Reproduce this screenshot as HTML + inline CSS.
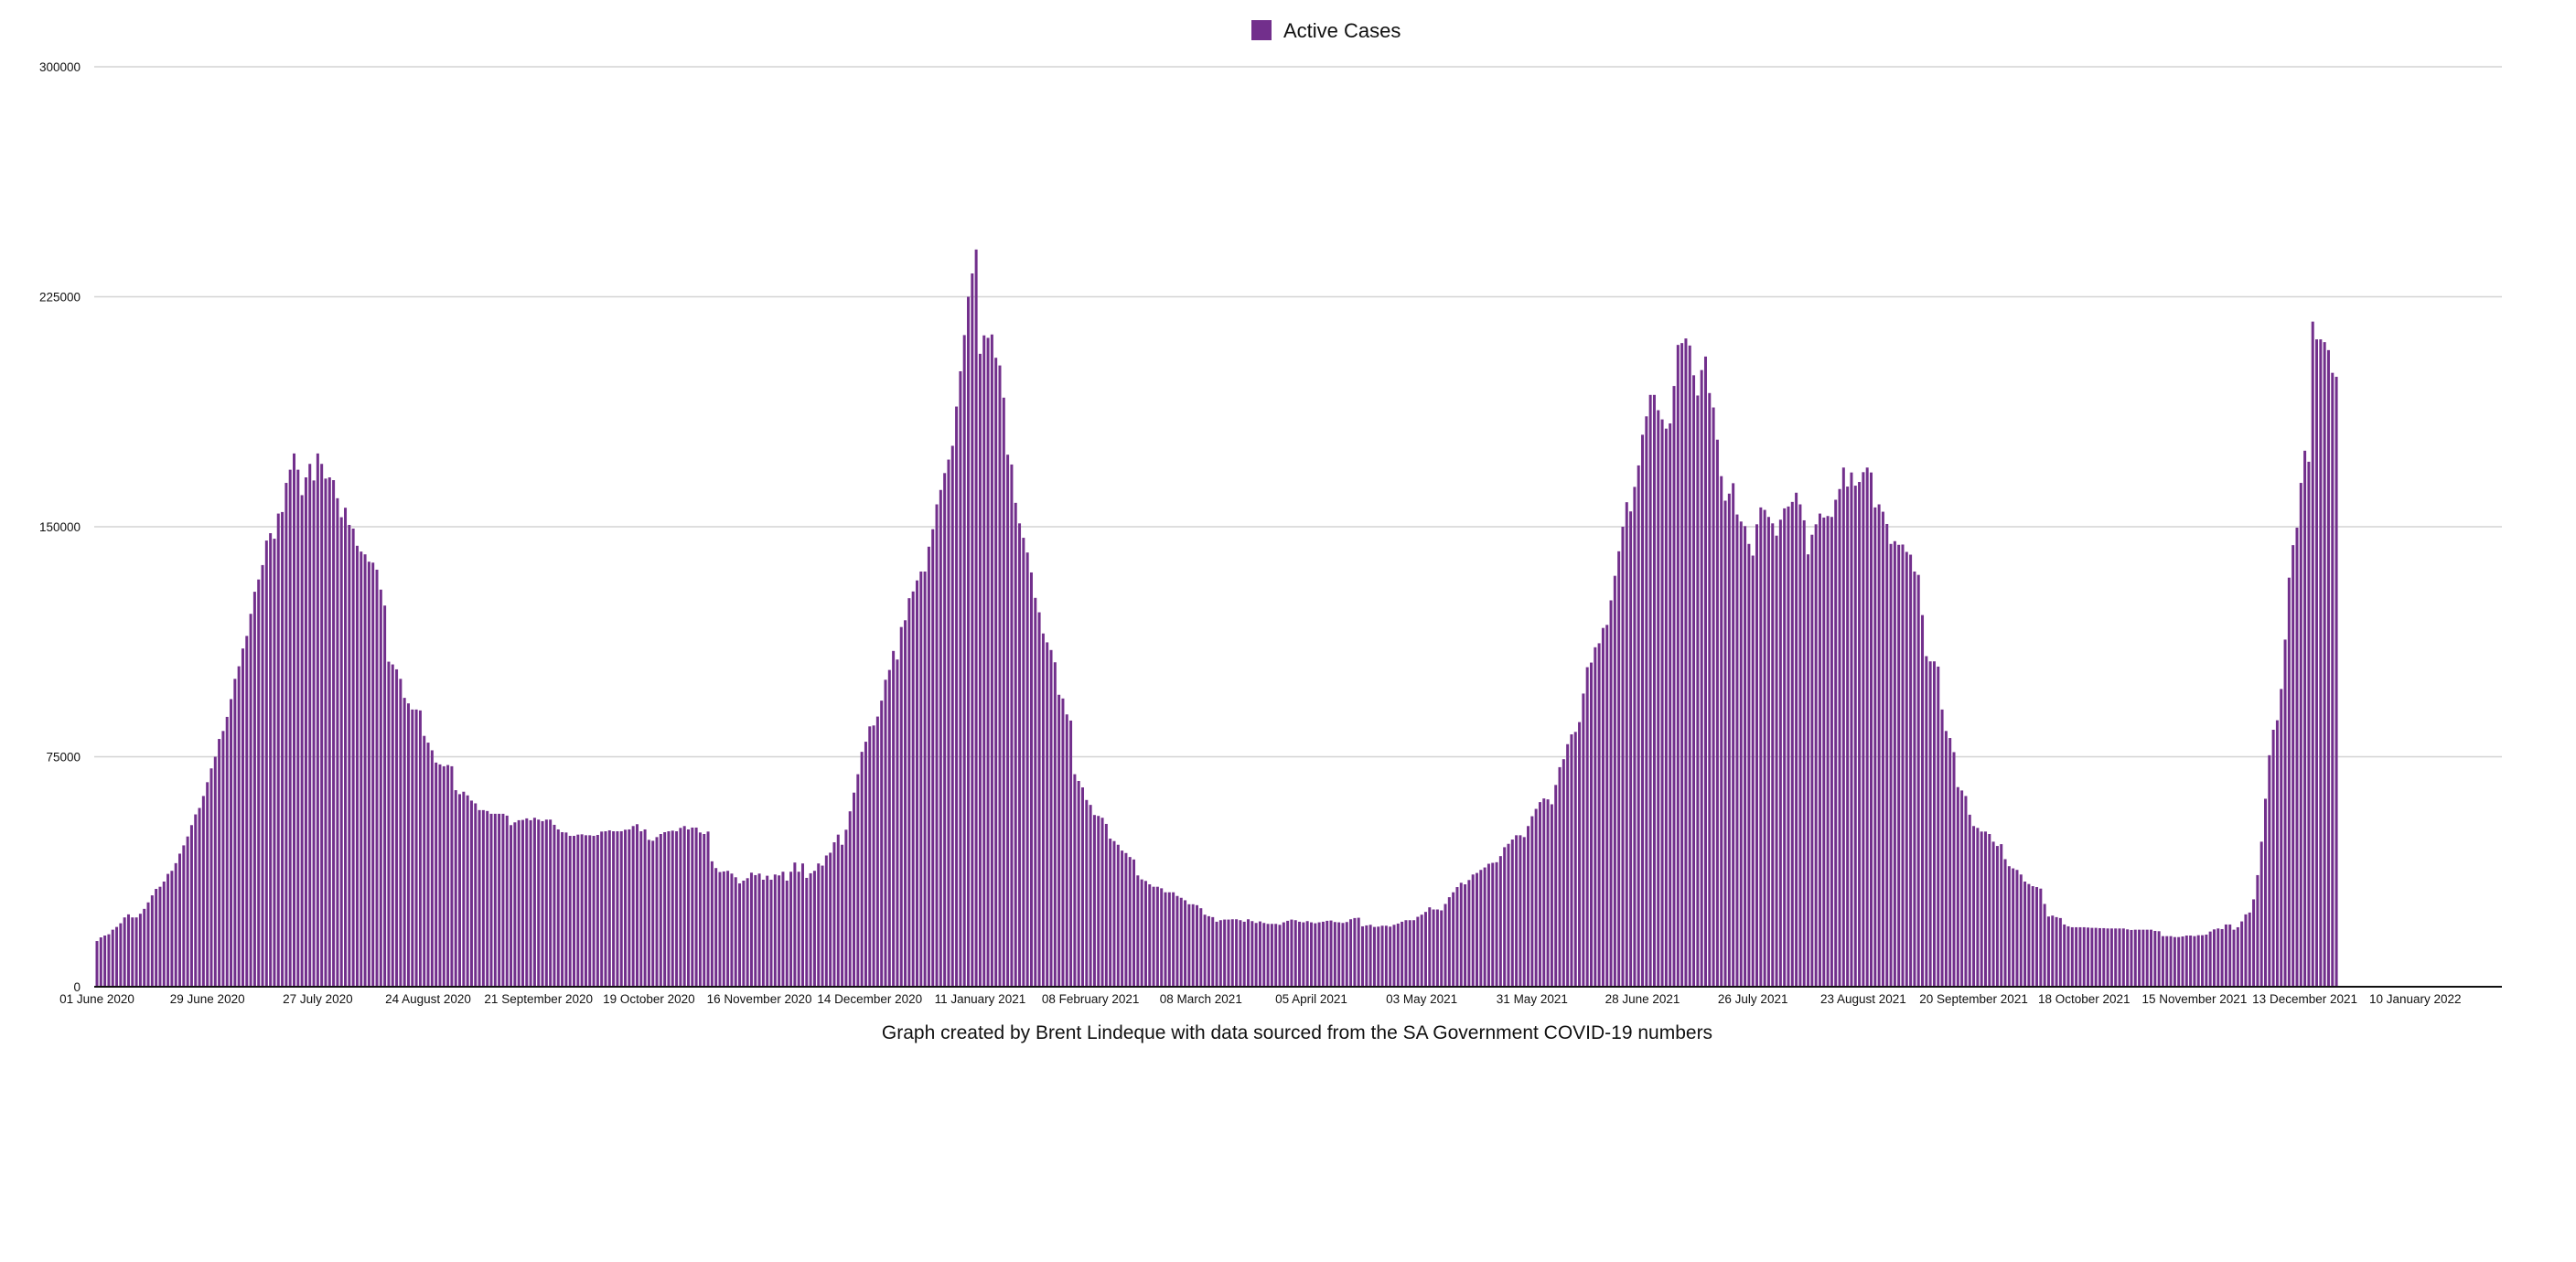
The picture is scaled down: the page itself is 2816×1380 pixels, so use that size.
<!DOCTYPE html>
<html><head><meta charset="utf-8"><style>
html,body{margin:0;padding:0;background:#fff;}
svg{display:block;font-family:"Liberation Sans",sans-serif;}
</style></head><body>
<svg id="chart" width="2816" height="1380" viewBox="0 0 2816 1380" xmlns="http://www.w3.org/2000/svg">
<rect width="2816" height="1380" fill="#fff"/>
<g>
<rect x="1368" y="22" width="22" height="22" fill="#722f8c"/>
<text x="1403" y="41" font-size="22" fill="#111">Active Cases</text>
</g>
<g id="grid"></g>
<g id="ylabels"></g>
<g id="bars"></g>
<line x1="103" y1="1079" x2="2735" y2="1079" stroke="#111" stroke-width="2"/>
<g id="xlabels"></g>
<text x="1418" y="1136" font-size="21" text-anchor="middle" fill="#111">Graph created by Brent Lindeque with data sourced from the SA Government COVID-19 numbers</text>
</svg>
<script>
const yTicks = [0, 75000, 150000, 225000, 300000];
const xTickLabels = ["01 June 2020","29 June 2020","27 July 2020","24 August 2020","21 September 2020","19 October 2020","16 November 2020","14 December 2020","11 January 2021","08 February 2021","08 March 2021","05 April 2021","03 May 2021","31 May 2021","28 June 2021","26 July 2021","23 August 2021","20 September 2021","18 October 2021","15 November 2021","13 December 2021","10 January 2022"];
const xTickDays = [0,28,56,84,112,140,168,196,224,252,280,308,336,364,392,420,448,476,504,532,560,588];
// active cases (thousands), one per day starting 01 June 2020
const wave1 = [14.9,16.1,16.7,17.1,18.6,19.5,20.7,22.6,23.6,22.6,22.6,23.8,25.4,27.5,29.8,31.9,32.6,34.3,36.8,37.8,40.3,43.4,46.1,49,52.7,56.2,58.3,62.2,66.7,71.2,75,80.8,83.4,88,93.8,100.4,104.5,110.3,114.4,121.6,128.8,132.8,137.5,145.5,147.9,146.1,154.3,154.8,164.3,168.6,173.9,168.6,160.3,166.1,170.5,165.1,173.9,170.5,165.7,166.1,165.2,159.3,153.1,156.2,150.6,149.4,143.8,141.9,141,138.6,138.3,136,129.5,124.3,106,105.1,103.5,100.4,94.2,92.4,90.4,90.4,90.1,81.8,79.6,77.1,73.1,72.5,71.9,72.3,71.9,64.1,62.8,63.6,62.4,60.7,59.8,57.6,57.6,57.3,56.4,56.4,56.4,56.4,55.8,52.7,53.6,54.3];
const trough1 = [54.4,54.9,54.3,55.1,54.5,54,54.5,54.5,52.8,51.3,50.4,50.3,49.2,49.2,49.6,49.7,49.4,49.4,49.2,49.5,50.6,50.7,51,50.7,50.7,50.7,51.2,51.3,52.4,53,50.7,51.3,47.9,47.6,48.8,49.8,50.4,50.7,50.9,50.7,51.8,52.4,51.3,51.9,51.9,50.3,49.8,50.6,40.9,38.7,37.4,37.6,37.8,36.9,35.7,33.7,34.6,35.4,37.2,36.4,36.9,34.9,36.2,34.9,36.6,36.3,37.5,34.6,37.5,40.5,37.5,40.2,35.5,37,37.8,40.2];
const wave2 = [39.5,42.8,43.7,47.1,49.6,46.3,51.2,57.2,63.3,69.3,76.6,79.9,84.9,85.2,88.1,93.3,100.1,103.3,109.5,106.7,117.3,119.5,126.7,128.9,132.5,135.4,135.4,143.5,149.2,157.3,162,167.5,171.9,176.4,189.2,200.7,212.5,225,232.6,240.4,206.4,212.4,211.6,212.7,205.1,202.6,192.1,173.5,170.3,157.8,151.1,146.4,141.6,135.1,126.8,122.1,115.2,112.3,109.8,105.8,95.2,94,88.8,86.8,69.3,67.1,65,60.9,59.3,56,55.7,55.1,53.1,48.3,47.5,46.3,44.4,43.6,42.3,41.5,36.3,35,34.5,33.4,32.6,32.6,32.1,30.8,30.8,30.8,29.6,29,28.2,26.9,26.9,26.6,25.6,23.5,23,22.7,21.2,21.7,21.9,21.9,22,22,21.7,21.2];
const trough2 = [22.0,21.4,20.8,21.3,20.8,20.5,20.5,20.5,20.2,21,21.5,21.9,21.7,21.2,21.0,21.4,21,20.7,21,21.2,21.5,21.6,21.1,21,20.8,21.1,22,22.4,22.5,19.7,20,20.2,19.5,19.6,19.9,19.9,19.6,20.2,20.6,21.2,21.7,21.7,21.7,22.8,23.5,24.4,25.9,25.2,25.2,24.9,27,29.2,30.8,32.5,33.9,33.4,34.8,36.6,37.1,38.1,38.9,40.1,40.4,40.6,42.6,45.5,46.6,48,49.4,49.4,48.8,52.4,55.6,58,60.2,61.4,61.1,59.5,65.8,71.6,74.2,79.1,82.3,83.1,86.3,95.6,104.2,105.7,110.7];
const wave3Rise = [112,117,118,126,134,142,150,158,155,163,170,180,186,193,193,188,185,182];
const wave3 = [183.7,195.9,209.3,209.9,211.4,209.1,199.4,192.8,201.1,205.5,193.6,188.9,178.4,166.5,158.5,160.8,164.2,154,151.7,150.2,144.4,140.6,150.8,156.3,155.5,153.2,151.1,147.1,152.3,156,156.6,158.1,161.1,157.3,152.1,141,147.4,150.8,154.3,153,153.5,153.2,158.8,162.3,169.3,163.1,167.7,163.4,164.6,167.8,169.3,167.7,156.3,157.3,154.9,150.9,144.4,145.3,144.1,144.2,141.8,140.9,135.4,134.3,121.2,107.8,106.1,106.1,104.4,90.4,83.4,81.1,76.5,65.1,64,62.2,56.1,52.4,51.8,50.6,50.6,49.8,47.3,45.9,46.5,41.6,39.3,38.6,38.1,36.6,34.3,33.5,32.8,32.5,32,27,22.9,23.2,22.7,22.4,20.3,19.7,19.4,19.4,19.4,19.4];
const wave4 = [19.3,19.2,19.2,19.1,19.1,19,19,19,19,19,18.7,18.5,18.6,18.6,18.6,18.6,18.6,18.2,18.1,16.5,16.5,16.5,16.2,16.2,16.4,16.7,16.7,16.5,16.8,16.8,17,18,18.7,19,18.8,20.3,20.3,18.6,19.4,21.3,23.6,24.2,28.5,36.4,47.3,61.3,75.5,83.8,86.9,97.1,113.2,133.4,144,149.7,164.3,174.8,171.2,216.9,211.1,211.1,210.2,207.6,200.2,198.9];

const values = [].concat(wave1, trough1, wave2, trough2, wave3Rise, wave3, wave4);
const X0 = 106, DAY = 4.31, BASE = 1079, TOP = 73, YMAX = 300000;
function xScale(d){ return X0 + DAY * d; }
function yScale(v){ return BASE - (v / YMAX) * (BASE - TOP); }
const NS = "http://www.w3.org/2000/svg";
const grid = document.getElementById('grid');
const yl = document.getElementById('ylabels');
yTicks.forEach(function(t){
  const y = yScale(t);
  if (t > 0) {
    const l = document.createElementNS(NS,'line');
    
    
    l.setAttribute('x1', 103); l.setAttribute('x2', 2735);
    l.setAttribute('y1', y); l.setAttribute('y2', y);
    l.setAttribute('stroke', '#d4d4d4'); l.setAttribute('stroke-width', 1.5);
    grid.appendChild(l);
  }
  const tx = document.createElementNS(NS,'text');
  
  
  tx.setAttribute('x', 88); tx.setAttribute('y', y + 5);
  tx.setAttribute('text-anchor', 'end'); tx.setAttribute('font-size', 13.5);
  tx.setAttribute('fill', '#111');
  tx.textContent = String(t);
  yl.appendChild(tx);
});
const bars = document.getElementById('bars');
values.forEach(function(v, d){
  const r = document.createElementNS(NS,'rect');
  
  
  const y = yScale(v * 1000);
  r.setAttribute('x', (xScale(d) - 1.5).toFixed(2));
  r.setAttribute('y', y.toFixed(2));
  r.setAttribute('width', 3);
  r.setAttribute('height', (BASE - y).toFixed(2));
  r.setAttribute('fill', '#722f8c');
  bars.appendChild(r);
});
const xl = document.getElementById('xlabels');
xTickLabels.forEach(function(lab, i){
  const tx = document.createElementNS(NS,'text');
  
  
  tx.setAttribute('x', xScale(xTickDays[i]));
  tx.setAttribute('y', 1097);
  tx.setAttribute('text-anchor', 'middle');
  tx.setAttribute('font-size', 13.5);
  tx.setAttribute('fill', '#111');
  tx.textContent = lab;
  xl.appendChild(tx);
});
</script>
</body></html>
